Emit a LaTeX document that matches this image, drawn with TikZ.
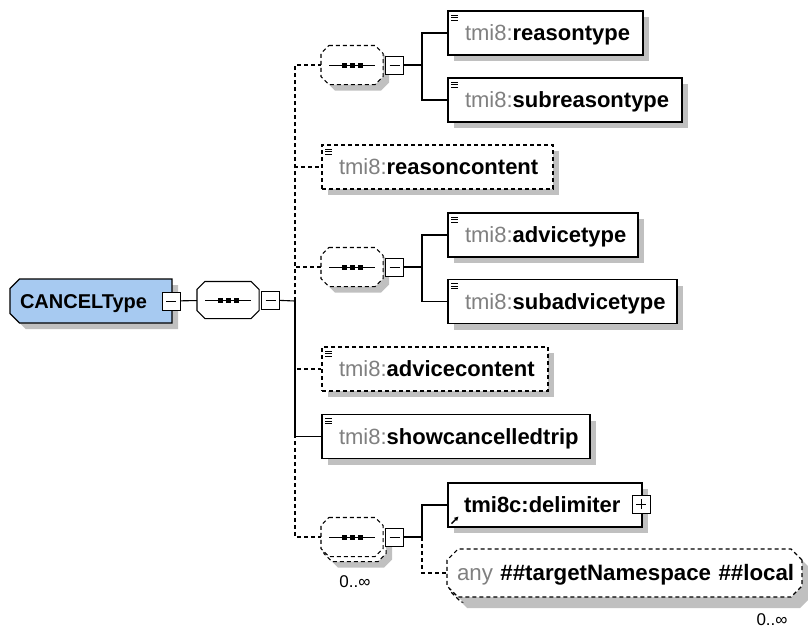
\documentclass[tikz,border=0pt]{standalone}
\usepackage{fontspec}
\setmainfont{Liberation Sans}
\usetikzlibrary{shapes.misc,shadows,positioning,arrows.meta}
\definecolor{typeblue}{RGB}{167,202,241}
\definecolor{nsgray}{RGB}{128,128,128}
\definecolor{shadowgray}{RGB}{192,192,192}
\newcommand{\ns}[1]{\textcolor{nsgray}{#1}}
% octagon round a sequence node
\newcommand{\oct}[1]{([xshift=8pt]#1.north west) -- ([xshift=-8pt]#1.north east) -- ([yshift=-8pt]#1.north east) -- ([yshift=8pt]#1.south east) -- ([xshift=-8pt]#1.south east) -- ([xshift=8pt]#1.south west) -- ([yshift=8pt]#1.south west) -- ([yshift=-8pt]#1.north west) -- cycle}
\newcommand{\seqshadow}[1]{\fill[shadowgray, transform canvas={shift={(6pt,-6pt)}}] \oct{#1};}
\newcommand{\seqdraw}[2]{%
	\draw[#1, fill=white] \oct{#2};
	\draw[line width=1pt] ([xshift=-23pt]#2.center) -- ([xshift=23pt]#2.center);
	\foreach \d in {-8,0,8}
		\fill[black] ([shift={(\d pt-2.5pt,-2.5pt)}]#2.center) rectangle +(5pt,5pt);}

\begin{document}
\begin{tikzpicture}[x=1pt, y=-1pt, line width=1.1pt, font=\fontsize{22}{24}\selectfont]
		\tikzset{>=latex}
		\tikzstyle{shade}=[general shadow={fill=shadowgray, shadow xshift=6pt, shadow yshift=-6pt}]
		\tikzstyle{opt}=[dash pattern=on 4pt off 3pt]
		\tikzstyle{box}=[draw=black, fill=white, shade, minimum height=44pt, inner sep=0pt, align=left, text height=15pt, text depth=0pt]
		\tikzstyle{elem}=[box, path picture={
			\foreach \d in {4,6.5,9}
				\draw[solid, line width=0.9pt] ([shift={(3pt,-\d pt)}]path picture bounding box.north west) -- +(7pt,0pt);}]
		\tikzstyle{seqbox}=[minimum width=61pt, minimum height=38pt, inner sep=0pt]
		\tikzstyle{minus}=[draw=black, fill=white, minimum size=18pt, inner sep=0pt, line width=1pt, path picture={
			\draw ([xshift=4pt]path picture bounding box.west) -- ([xshift=-4pt]path picture bounding box.east);}]
		\tikzstyle{plus}=[draw=black, fill=white, minimum size=18pt, inner sep=0pt, line width=1pt, path picture={
			\draw ([xshift=4pt]path picture bounding box.west) -- ([xshift=-4pt]path picture bounding box.east);
			\draw ([yshift=4pt]path picture bounding box.south) -- ([yshift=-4pt]path picture bounding box.north);}]
		\tikzstyle{occurs}=[font=\fontsize{17}{20}\selectfont, inner sep=0pt]

		\useasboundingbox (0,0) rectangle (808,630);

		% root type and main sequence
		\node[box, fill=typeblue, chamfered rectangle, chamfered rectangle corners={north west,south west}, chamfered rectangle xsep=6pt, minimum width=162pt, text width=142pt, font=\fontsize{20}{24}\selectfont\bfseries] (cancel) at (91,301) {CANCELType};
		\node[minus] (cancelm) at (171,301) {};
		\node[seqbox, minimum height=36pt] (mainseq) at (228,300) {};
		\seqdraw{solid}{mainseq}
		\node[minus, right=2pt of mainseq] (mainm) {};
		\coordinate (trunk) at (295,301);
		\draw (cancelm) -- (mainseq);
		\draw (mainm) -- (trunk);

		% reason
		\node[seqbox] (seq1) at (352,65) {};
		\seqshadow{seq1}
		\seqdraw{opt}{seq1}
		\node[minus, right=2pt of seq1] (seq1m) {};
		\coordinate (j1) at (422,65);
		\node[elem, minimum width=195pt, text width=161pt] (reasontype) at (545.5,33) {\mbox{\ns{tmi8:}\textbf{reasontype}}};
		\node[elem, minimum width=234pt, text width=200pt] (subreasontype) at (565,100) {\mbox{\ns{tmi8:}\textbf{subreasontype}}};
		\node[elem, opt, minimum width=231pt, text width=197pt] (reasoncontent) at (437.5,167) {\mbox{\ns{tmi8:}\textbf{reasoncontent}}};
		\draw (seq1m) -- (j1);
		\draw (j1) |- (reasontype);
		\draw (j1) |- (subreasontype);

		% advice
		\node[seqbox] (seq2) at (352,267) {};
		\seqshadow{seq2}
		\seqdraw{opt}{seq2}
		\node[minus, right=2pt of seq2] (seq2m) {};
		\coordinate (j2) at (422,267);
		\node[elem, minimum width=190pt, text width=156pt] (advicetype) at (543,235) {\mbox{\ns{tmi8:}\textbf{advicetype}}};
		\node[elem, minimum width=229pt, text width=195pt] (subadvicetype) at (562.5,301.5) {\mbox{\ns{tmi8:}\textbf{subadvicetype}}};
		\node[elem, opt, minimum width=226pt, text width=192pt] (advicecontent) at (435,369) {\mbox{\ns{tmi8:}\textbf{advicecontent}}};
		\draw (seq2m) -- (j2);
		\draw (j2) |- (advicetype);
		\draw (j2) |- (subadvicetype);

		\node[elem, minimum width=268pt, text width=234pt] (showcancelledtrip) at (456,436.5) {\mbox{\ns{tmi8:}\textbf{showcancelledtrip}}};

		% delimiter and any
		\node[seqbox] (seq3b) at (355,542) {};
		\node[seqbox] (seq3) at (352,537) {};
		\seqshadow{seq3b}
		\seqdraw{opt}{seq3b}
		\seqdraw{opt}{seq3}
		\node[minus, right=2pt of seq3] (seq3m) {};
		\node[occurs] (seq3n) at (355,582) {0..∞};
		\coordinate (j3) at (422,537);
		\node[box, minimum width=194pt, text width=162pt] (delimiter) at (545,505) {\mbox{\textbf{tmi8c:delimiter}}};
		\draw[line width=1.4pt, -{Triangle[length=4pt,width=4pt]}] ([shift={(4pt,4pt)}]delimiter.south west) -- +(7pt,7pt);
		\node[plus] (delimp) at (641,504) {};
		\node[box, opt, chamfered rectangle, chamfered rectangle xsep=8pt, minimum width=355pt, minimum height=48pt, text width=335pt] (anyb) at (627.5,578) {};
		\node[box, opt, chamfered rectangle, chamfered rectangle xsep=8pt, minimum width=355pt, minimum height=48pt, text width=335pt, general shadow={}, font=\fontsize{22.3}{24}\selectfont] (any) at (624.5,573) {\mbox{\ns{any} \textbf{\#\#targetNamespace \#\#local}}};
		\node[occurs] (anyn) at (772,620) {0..∞};
		\draw (seq3m) -- (j3);
		\draw (j3) |- (delimiter);
		\draw[opt] (j3) |- (any);

		% branches of the main sequence
		\draw[opt] (trunk) |- (seq1);
		\draw[opt] (trunk) |- (reasoncontent);
		\draw[opt] (trunk) |- (seq2);
		\draw[opt] (trunk) |- (advicecontent);
		\draw (trunk) |- (showcancelledtrip);
		\draw[opt] (trunk) |- (seq3);
	\end{tikzpicture}
\end{document}
